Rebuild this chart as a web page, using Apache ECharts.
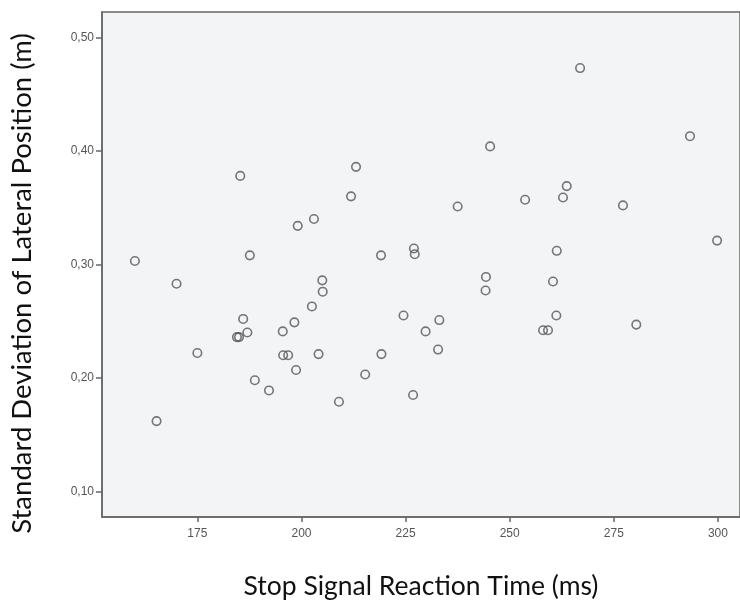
<!DOCTYPE html>
<html>
<head>
<meta charset="utf-8">
<script src="https://cdn.jsdelivr.net/npm/echarts@6/dist/echarts.min.js"></script>
<style>
html,body{margin:0;padding:0;background:#fff;}
#chart{width:740px;height:605px;}
</style>
</head>
<body>
<div id="chart"></div>
<script>
// Stop Signal Reaction Time (ms)
var ssrt = [160.0,165.2,170.0,175.0,184.5,185.0,185.3,186.0,187.0,187.6,188.8,192.2,195.5,195.6,196.8,198.3,198.7,199.1,202.5,203.0,204.1,205.0,205.1,209.0,211.9,213.1,215.3,219.1,219.2,224.5,226.8,227.0,227.2,229.8,232.8,233.1,237.5,244.2,244.3,245.3,253.7,258.0,259.2,260.4,261.2,261.3,262.8,263.7,266.9,277.2,280.4,293.3,299.8];
// Standard Deviation of Lateral Position (m)
var sdlp = [0.303,0.162,0.283,0.222,0.236,0.236,0.378,0.252,0.240,0.308,0.198,0.189,0.241,0.220,0.220,0.249,0.207,0.334,0.263,0.340,0.221,0.286,0.276,0.179,0.360,0.386,0.203,0.308,0.221,0.255,0.185,0.314,0.309,0.241,0.225,0.251,0.351,0.277,0.289,0.404,0.357,0.242,0.242,0.285,0.255,0.312,0.359,0.369,0.473,0.352,0.247,0.413,0.321];
var xTicks = [175,200,225,250,275,300];
var yTicks = [0.10,0.20,0.30,0.40,0.50];
var xTitle = 'Stop Signal Reaction Time (ms)';
var yTitle = 'Standard Deviation of Lateral Position (m)';

var points = ssrt.map(function(v,i){return [v, sdlp[i]];});
var axisColor = '#666666';
var chart = echarts.init(document.getElementById('chart'));
chart.setOption({
  animation:false,
  backgroundColor:'#ffffff',
  grid:{left:102,top:12,right:0,bottom:86,show:true,backgroundColor:'#f3f4f5',borderColor:axisColor,borderWidth:1.5,containLabel:false},
  xAxis:{
    type:'value',min:152.1,max:305.3,
    name:xTitle,nameLocation:'middle',nameGap:56,
    nameTextStyle:{fontFamily:'Lato',fontSize:26.5,color:'#111'},
    axisLine:{show:true,lineStyle:{color:axisColor,width:1.5}},
    axisTick:{show:true,length:5,lineStyle:{color:axisColor,width:1.5},customValues:xTicks},
    axisLabel:{color:'#555',fontFamily:'Liberation Sans',fontSize:12,margin:11,customValues:xTicks},
    splitLine:{show:false}
  },
  yAxis:{
    type:'value',min:0.0775,max:0.5224,
    name:yTitle,nameLocation:'middle',nameGap:66,
    nameTextStyle:{fontFamily:'Lato',fontSize:27.5,color:'#111',padding:[0,38,0,0]},
    axisLine:{show:true,lineStyle:{color:axisColor,width:1.5}},
    axisTick:{show:true,length:6,lineStyle:{color:axisColor,width:1.5},customValues:yTicks},
    axisLabel:{color:'#555',fontFamily:'Liberation Sans',fontSize:12,margin:8,customValues:yTicks,
      formatter:function(v){return v.toFixed(2).replace('.',',');}},
    splitLine:{show:false}
  },
  series:[{
    type:'scatter',
    data:points,
    symbol:'circle',
    symbolSize:8.5,
    itemStyle:{color:'rgba(0,0,0,0)',borderColor:'#555555',borderWidth:1.6}
  }]
});
</script>
</body>
</html>
